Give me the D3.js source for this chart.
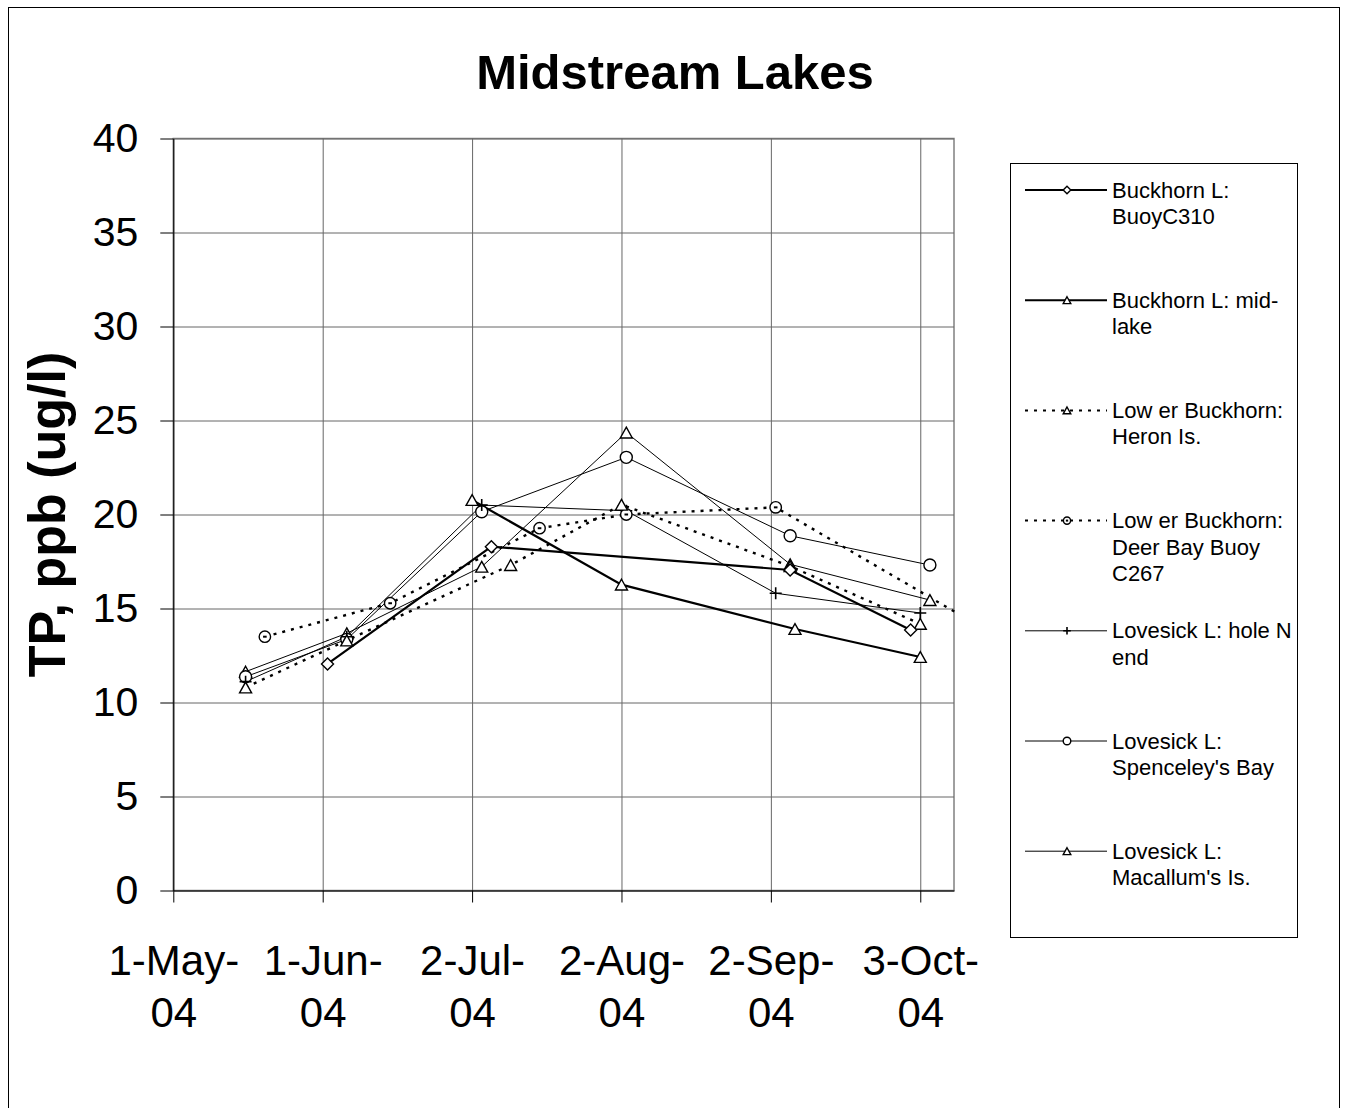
<!DOCTYPE html>
<html>
<head>
<meta charset="utf-8">
<script src="https://cdn.jsdelivr.net/npm/d3@7"></script>
<style>
  html, body { margin: 0; padding: 0; background: #fff; overflow: hidden; }
  svg { display: block; font-family: "Liberation Sans", Arial, sans-serif; }
</style>
</head>
<body>
<svg id="chart" width="1348" height="1108"></svg>
<script>
// Total phosphorus, midstream lakes, 2004 sampling season
const chartTitle = "Midstream Lakes";
const yTitle = "TP, ppb (ug/l)";
const tickDates = ["2004-05-01", "2004-06-01", "2004-07-02", "2004-08-02", "2004-09-02", "2004-10-03"];
const yTicks = [0, 5, 10, 15, 20, 25, 30, 35, 40];

const seriesLabels = [
  ["Buckhorn L:", "BuoyC310"],
  ["Buckhorn L: mid-", "lake"],
  ["Low er Buckhorn:", "Heron Is."],
  ["Low er Buckhorn:", "Deer Bay Buoy", "C267"],
  ["Lovesick L: hole N", "end"],
  ["Lovesick L:", "Spenceley's Bay"],
  ["Lovesick L:", "Macallum's Is."]
];

const buoyC310Dates = ["2004-06-02", "2004-07-06", "2004-09-06", "2004-10-01"];
const buoyC310Values = [12.05, 18.29, 17.05, 13.86];

const midLakeDates = ["2004-07-02", "2004-08-02", "2004-09-07", "2004-10-03"];
const midLakeValues = [20.77, 16.27, 13.91, 12.42];

const heronDates = ["2004-05-16", "2004-06-06", "2004-07-10", "2004-08-02", "2004-09-06", "2004-10-03"];
const heronValues = [10.8, 13.3, 17.31, 20.52, 17.25, 14.18];

const deerBayDates = ["2004-05-20", "2004-06-15", "2004-07-16", "2004-08-03", "2004-09-03", "2004-10-11"];
const deerBayValues = [13.5, 15.28, 19.27, 20.0, 20.38, 14.7];

const holeNDates = ["2004-05-16", "2004-06-06", "2004-07-04", "2004-08-03", "2004-09-03", "2004-10-03"];
const holeNValues = [11.11, 13.5, 20.5, 20.2, 15.81, 14.76];

const spenceleyDates = ["2004-05-16", "2004-06-06", "2004-07-04", "2004-08-03", "2004-09-06", "2004-10-05"];
const spenceleyValues = [11.37, 13.36, 20.15, 23.04, 18.87, 17.31];

const macallumDates = ["2004-05-16", "2004-06-06", "2004-07-04", "2004-08-03", "2004-09-06", "2004-10-05"];
const macallumValues = [11.64, 13.68, 17.22, 24.36, 17.35, 15.45];

const parse = d3.utcParse("%Y-%m-%d");
const toPoints = (dates, values) => dates.map((d, i) => ({ date: parse(d), value: values[i] }));

// line / marker styling per series
const styles = [
  { marker: "diamond",   width: 2.2, dash: null },
  { marker: "triangle",  width: 2.2, dash: null },
  { marker: "triangle",  width: 2.4, dash: "3,6" },
  { marker: "dotcircle", width: 2.4, dash: "3,6" },
  { marker: "plus",      width: 1,   dash: null },
  { marker: "circle",    width: 1,   dash: null },
  { marker: "triangle",  width: 1,   dash: null }
];

const series = [
  toPoints(buoyC310Dates, buoyC310Values),
  toPoints(midLakeDates, midLakeValues),
  toPoints(heronDates, heronValues),
  toPoints(deerBayDates, deerBayValues),
  toPoints(holeNDates, holeNValues),
  toPoints(spenceleyDates, spenceleyValues),
  toPoints(macallumDates, macallumValues)
].map((pts, i) => ({ points: pts, style: styles[i], label: seriesLabels[i] }));

const svg = d3.select("#chart");
const plot = { left: 173.3, right: 954, top: 138.5, bottom: 890.5 };

const x = d3.scaleUtc()
  .domain([parse("2004-05-01"), parse("2004-10-10")])
  .range([plot.left, plot.right]);
const y = d3.scaleLinear().domain([0, 40]).range([plot.bottom, plot.top]);

// chart frame
svg.append("rect")
  .attr("x", 8.5).attr("y", 7.5).attr("width", 1331).attr("height", 1120)
  .attr("fill", "#fff").attr("stroke", "#000").attr("stroke-width", 1);

// title
svg.append("text")
  .attr("x", 675).attr("y", 89)
  .attr("text-anchor", "middle")
  .attr("font-size", 49).attr("font-weight", "bold")
  .text(chartTitle);

// plot area border
svg.append("rect")
  .attr("x", plot.left).attr("y", plot.top)
  .attr("width", plot.right - plot.left).attr("height", plot.bottom - plot.top)
  .attr("fill", "none").attr("stroke", "#808080").attr("stroke-width", 1.5);

// gridlines
const gridY = svg.append("g").attr("transform", `translate(${plot.left},0)`)
  .call(d3.axisLeft(y).tickValues(yTicks).tickSize(-(plot.right - plot.left)).tickFormat(""));
gridY.select(".domain").remove();
gridY.selectAll("line").attr("stroke", "#666").attr("stroke-width", 1);

const gridX = svg.append("g").attr("transform", `translate(0,${plot.top})`)
  .call(d3.axisBottom(x).tickValues(tickDates.map(parse)).tickSize(plot.bottom - plot.top).tickFormat(""));
gridX.select(".domain").remove();
gridX.selectAll("line").attr("stroke", "#666").attr("stroke-width", 1);

// axes
const yAxis = svg.append("g").attr("transform", `translate(${plot.left},0)`)
  .call(d3.axisLeft(y).tickValues(yTicks).tickSize(13).tickPadding(22).tickSizeOuter(0));
yAxis.selectAll("text").attr("font-size", 41).attr("fill", "#000").attr("font-family", "Liberation Sans, Arial, sans-serif");
yAxis.selectAll("line, path").attr("stroke", "#000");

const xAxis = svg.append("g").attr("transform", `translate(0,${plot.bottom})`)
  .call(d3.axisBottom(x).tickValues(tickDates.map(parse)).tickSize(12).tickSizeOuter(0).tickFormat(""));
xAxis.selectAll("line, path").attr("stroke", "#000");
const fmt1 = d3.utcFormat("%-d-%b-");
const fmt2 = d3.utcFormat("%y");
xAxis.selectAll(".tick").each(function(d) {
  const t = d3.select(this).select("text")
    .attr("font-size", 42).attr("fill", "#000").attr("font-family", "Liberation Sans, Arial, sans-serif")
    .attr("y", 0).attr("dy", null);
  t.append("tspan").attr("x", 0).attr("y", 84).text(fmt1(d));
  t.append("tspan").attr("x", 0).attr("y", 136).text(fmt2(d));
});

// y-axis title
svg.append("text")
  .attr("transform", `translate(65,${(plot.top + plot.bottom) / 2}) rotate(-90)`)
  .attr("text-anchor", "middle")
  .attr("font-size", 52).attr("font-weight", "bold")
  .text(yTitle);

// markers
function drawMarker(g, type, cx, cy, s) {
  const sw = 1.4;
  if (type === "diamond") {
    g.append("path").attr("d", `M${cx},${cy - s}L${cx + s},${cy}L${cx},${cy + s}L${cx - s},${cy}Z`)
      .attr("fill", "#fff").attr("stroke", "#000").attr("stroke-width", sw);
  } else if (type === "triangle") {
    const h = s * 1.8;
    g.append("path").attr("d", `M${cx},${cy - h / 2}L${cx + s},${cy + h / 2}L${cx - s},${cy + h / 2}Z`)
      .attr("fill", "#fff").attr("stroke", "#000").attr("stroke-width", sw);
  } else if (type === "circle") {
    g.append("circle").attr("cx", cx).attr("cy", cy).attr("r", s)
      .attr("fill", "#fff").attr("stroke", "#000").attr("stroke-width", sw);
  } else if (type === "dotcircle") {
    g.append("circle").attr("cx", cx).attr("cy", cy).attr("r", s * 0.95)
      .attr("fill", "#fff").attr("stroke", "#000").attr("stroke-width", sw);
    g.append("rect").attr("x", cx - s * 0.3).attr("y", cy - 1).attr("width", s * 0.6).attr("height", 2).attr("fill", "#000");
  } else if (type === "plus") {
    g.append("path").attr("d", `M${cx - s},${cy}H${cx + s}M${cx},${cy - s}V${cy + s}`)
      .attr("stroke", "#000").attr("stroke-width", sw + 0.2).attr("fill", "none");
  }
}

svg.append("clipPath").attr("id", "plotClip")
  .append("rect").attr("x", plot.left - 8).attr("y", plot.top - 8)
  .attr("width", plot.right - plot.left + 9).attr("height", plot.bottom - plot.top + 16);
svg.append("clipPath").attr("id", "lineClip")
  .append("rect").attr("x", plot.left).attr("y", plot.top)
  .attr("width", plot.right - plot.left + 1).attr("height", plot.bottom - plot.top);

const line = d3.line().x(d => x(d.date)).y(d => y(d.value));
const linesG = svg.append("g").attr("clip-path", "url(#lineClip)");
const markersG = svg.append("g").attr("clip-path", "url(#plotClip)");

// thin lines first, heavy and dotted ones on top
const drawOrder = [6, 5, 4, 3, 2, 1, 0];
drawOrder.forEach(i => {
  const s = series[i];
  linesG.append("path").datum(s.points)
    .attr("d", line)
    .attr("fill", "none").attr("stroke", "#000")
    .attr("stroke-width", s.style.width)
    .attr("stroke-dasharray", s.style.dash);
});
drawOrder.forEach(i => {
  const s = series[i];
  s.points.forEach(p => {
    const px = x(p.date);
    if (px > plot.right + 1) return;
    drawMarker(markersG, s.style.marker, px, y(p.value), 6);
  });
});

// legend
const legend = { left: 1010, top: 163, right: 1297, bottom: 937 };
svg.append("rect")
  .attr("x", legend.left + 0.5).attr("y", legend.top + 0.5)
  .attr("width", legend.right - legend.left).attr("height", legend.bottom - legend.top)
  .attr("fill", "#fff").attr("stroke", "#000").attr("stroke-width", 1);

series.forEach((s, i) => {
  const ly = 190 + i * 110.2;
  const g = svg.append("g");
  g.append("line")
    .attr("x1", 1025).attr("x2", 1107).attr("y1", ly).attr("y2", ly)
    .attr("stroke", "#000").attr("stroke-width", s.style.width > 1.5 ? 2 : 1)
    .attr("stroke-dasharray", s.style.dash ? "3,6" : null);
  drawMarker(g, s.style.marker, 1067, ly, 3.8);
  const t = g.append("text").attr("font-size", 22).attr("fill", "#000");
  s.label.forEach((ln, k) => {
    t.append("tspan").attr("x", 1112).attr("y", ly + 7.5 + k * 26.5).text(ln);
  });
});
</script>
</body>
</html>
